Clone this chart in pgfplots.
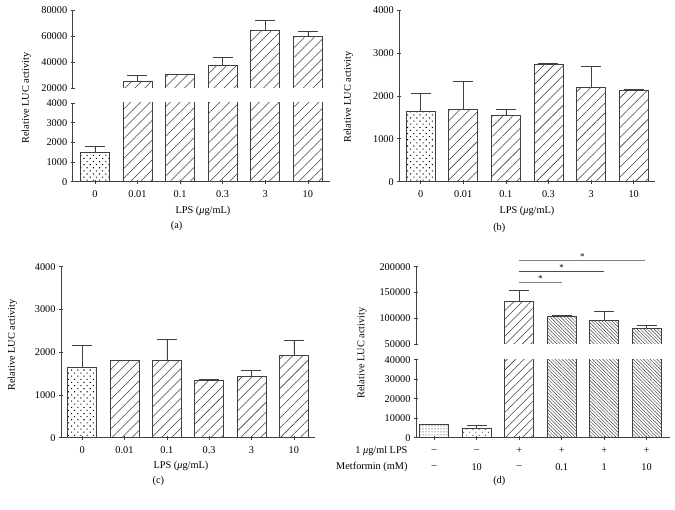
\documentclass[border=0pt]{standalone}
\usepackage{fontspec}
\setmainfont{Liberation Serif}
\usepackage{pgfplots}
\pgfplotsset{compat=1.18}
\usepackage{pgfplotstable}
\usetikzlibrary{patterns.meta}

\definecolor{ax}{gray}{0.25}
\newcommand{\fs}{\fontsize{10.3}{12}\selectfont}

\pgfplotstableread{
x y e
0 1500 300
1 25600 4400
2 30500 500
3 37400 6600
4 64300 7500
5 60000 3500
}\dataA
\pgfplotstableread{
x y e
0 1650 400
1 1680 660
2 1540 140
3 2730 30
4 2190 490
5 2140 20
}\dataB
\pgfplotstableread{
x y e
0 1650 500
1 1800 20
2 1800 500
3 1340 20
4 1440 130
5 1920 350
}\dataC
\pgfplotstableread{
x y e
0 7000 100
1 4800 1400
2 133000 21000
3 105000 1500
4 96000 18000
5 81300 4500
}\dataD

\pgfplotsset{
  panel/.style={scale only axis,
    tick align=outside, tick style={ax, line width=0.6pt}, major tick length=4pt,
    ticklabel style={font=\fs, text=black},
    xticklabel style={yshift=-3pt},
    /pgf/number format/assume math mode=true, scaled y ticks=false,
    yticklabel style={/pgf/number format/fixed, /pgf/number format/1000 sep={}}, clip mode=individual},
  lower/.style={panel, axis x line=bottom, axis y line=left,
    x axis line style={-, ax, line width=0.6pt}, y axis line style={-, ax, line width=0.6pt},
    every outer x axis line/.append style={-}, every outer y axis line/.append style={-},
    xtick={0,...,5}},
  upper/.style={panel, axis x line=none, axis y line=left,
    y axis line style={-, ax, line width=0.6pt}, every outer y axis line/.append style={-},
    xtick=\empty},
  ebar/.style={/pgfplots/error bars/y dir=plus, /pgfplots/error bars/y explicit,
    /pgfplots/error bars/error bar style={ax, line width=0.6pt},
    /pgfplots/error bars/error mark options={rotate=90, mark size=10pt, ax, line width=0.6pt}},
  barbase/.style={ybar, bar width=29pt, draw=ax, line width=0.6pt},
  hatch/.style={barbase, pattern={Lines[angle=45, distance=7pt, line width=0.55pt]}, pattern color=ax},
  dotbar/.style={barbase, pattern={Dots[angle=45, distance=4.4pt, radius=0.75pt]}, pattern color=black},
  only0/.style={skip coords between index={1}{6}},
  skip0/.style={skip coords between index={0}{1}},
}

\begin{document}
\begin{tikzpicture}[x=1pt,y=1pt]
\useasboundingbox (0,0) rectangle (675,-510);

% ---------------- (a) ----------------
\begin{axis}[lower, at={(72.7pt,-181.7pt)}, anchor=south west, width=257.3pt, height=78.7pt,
  xmin=-0.52, xmax=5.52, ymin=0, ymax=4000, ytick={0,1000,...,4000},
  xticklabels={0,0.01,0.1,0.3,3,10}]
  \addplot[dotbar, ebar] table[x=x, y=y, y error=e, only0] {\dataA};
  \addplot[hatch, ebar] table[x=x, y=y, y error=e, skip0] {\dataA};
\end{axis}
\begin{axis}[upper, at={(72.7pt,-88.3pt)}, anchor=south west, width=257.3pt, height=78.3pt,
  xmin=-0.52, xmax=5.52, ymin=20000, ymax=80000, ytick={20000,40000,60000,80000}]
  \addplot[hatch, ebar] table[x=x, y=y, y error=e, skip0] {\dataA};
  % open the bars at the axis break
  \draw[white, line width=1.4pt] (axis cs:0.45,20000) -- (axis cs:5.52,20000);
\end{axis}
\node[rotate=90, font=\fs] at (26.5,-98) {Relative LUC activity};
\node[font=\fs] at (203,-210.7) {LPS (\textit{μ}g/mL)};
\node[font=\fs] at (176.7,-226) {(a)};

% ---------------- (b) ----------------
\begin{axis}[lower, at={(399.3pt,-181.7pt)}, anchor=south west, width=255.7pt, height=171.7pt,
  xmin=-0.5, xmax=5.5, ymin=0, ymax=4000, ytick={0,1000,...,4000},
  xticklabels={0,0.01,0.1,0.3,3,10}]
  \addplot[dotbar, ebar] table[x=x, y=y, y error=e, only0] {\dataB};
  \addplot[hatch, ebar] table[x=x, y=y, y error=e, skip0] {\dataB};
\end{axis}
\node[rotate=90, font=\fs] at (348.3,-97) {Relative LUC activity};
\node[font=\fs] at (527,-210.7) {LPS (\textit{μ}g/mL)};
\node[font=\fs] at (499.3,-228) {(b)};

% ---------------- (c) ----------------
\begin{axis}[lower, at={(61pt,-437.7pt)}, anchor=south west, width=254pt, height=171pt,
  xmin=-0.5, xmax=5.5, ymin=0, ymax=4000, ytick={0,1000,...,4000},
  xticklabels={0,0.01,0.1,0.3,3,10}]
  \addplot[dotbar, ebar] table[x=x, y=y, y error=e, only0] {\dataC};
  \addplot[hatch, ebar] table[x=x, y=y, y error=e, skip0] {\dataC};
\end{axis}
\node[rotate=90, font=\fs] at (12.5,-345) {Relative LUC activity};
\node[font=\fs] at (181,-466) {LPS (\textit{μ}g/mL)};
\node[font=\fs] at (158.3,-481) {(c)};

% ---------------- (d) ----------------
\begin{axis}[lower, at={(416pt,-437.7pt)}, anchor=south west, width=254pt, height=78pt,
  xmin=-0.43, xmax=5.55, ymin=0, ymax=40000, ytick={0,10000,...,40000},
  xticklabels={}]
  \addplot[barbase, pattern={Dots[distance=3pt, radius=0.5pt]}, pattern color=black, ebar]
    table[x=x, y=y, y error=e, skip coords between index={1}{6}] {\dataD};
  \addplot[barbase, pattern={Dots[angle=45, distance=4.4pt, radius=0.6pt]}, pattern color=black, ebar]
    table[x=x, y=y, y error=e, skip coords between index={0}{1}, skip coords between index={2}{6}] {\dataD};
  \addplot[barbase, pattern={Lines[angle=45, distance=6pt, line width=0.55pt]}, pattern color=ax, ebar]
    table[x=x, y=y, y error=e, skip coords between index={0}{2}, skip coords between index={3}{6}] {\dataD};
  \addplot[barbase, pattern={Lines[angle=-45, distance=2.4pt, line width=0.45pt]}, pattern color=ax, ebar]
    table[x=x, y=y, y error=e, skip coords between index={0}{3}] {\dataD};
  % condition rows
  \node[font=\fs] at (axis cs:0,-6820) {–};
  \node[font=\fs] at (axis cs:1,-6820) {–};
  \node[font=\fs] at (axis cs:2,-6820) {+};
  \node[font=\fs] at (axis cs:3,-6820) {+};
  \node[font=\fs] at (axis cs:4,-6820) {+};
  \node[font=\fs] at (axis cs:5,-6820) {+};
  \node[font=\fs] at (axis cs:0,-14870) {–};
  \node[font=\fs] at (axis cs:1,-14870) {10};
  \node[font=\fs] at (axis cs:2,-14870) {–};
  \node[font=\fs] at (axis cs:3,-14870) {0.1};
  \node[font=\fs] at (axis cs:4,-14870) {1};
  \node[font=\fs] at (axis cs:5,-14870) {10};
\end{axis}
\begin{axis}[upper, at={(416pt,-344.3pt)}, anchor=south west, width=254pt, height=77.6pt,
  xmin=-0.43, xmax=5.55, ymin=50000, ymax=200000, ytick={50000,100000,150000,200000}]
  \addplot[barbase, pattern={Lines[angle=45, distance=6pt, line width=0.55pt]}, pattern color=ax, ebar]
    table[x=x, y=y, y error=e, skip coords between index={0}{2}, skip coords between index={3}{6}] {\dataD};
  \addplot[barbase, pattern={Lines[angle=-45, distance=2.4pt, line width=0.45pt]}, pattern color=ax, ebar]
    table[x=x, y=y, y error=e, skip coords between index={0}{3}] {\dataD};
  % open the bars at the axis break
  \draw[white, line width=1.4pt] (axis cs:1.45,50000) -- (axis cs:5.55,50000);
  % significance brackets
  \draw[gray, line width=0.7pt] (axis cs:2,169000) -- node[above, inner sep=0.5pt, black, font=\fontsize{9}{10}\selectfont] {*} (axis cs:3,169000);
  \draw[black!70, line width=0.7pt] (axis cs:2,190300) -- node[above, inner sep=0.5pt, black, font=\fontsize{9}{10}\selectfont] {*} (axis cs:4,190300);
  \draw[gray, line width=0.7pt] (axis cs:2,213000) -- node[above, inner sep=0.5pt, black, font=\fontsize{9}{10}\selectfont] {*} (axis cs:4.97,213000);
\end{axis}
\node[rotate=90, font=\fs] at (362,-353) {Relative LUC activity};
\node[font=\fs, anchor=east] at (411,-451) {1 \textit{μ}g/ml LPS};
\node[font=\fs, anchor=east] at (411,-466.7) {Metformin (mM)};
\node[font=\fs] at (499.3,-481) {(d)};
\end{tikzpicture}
\end{document}
